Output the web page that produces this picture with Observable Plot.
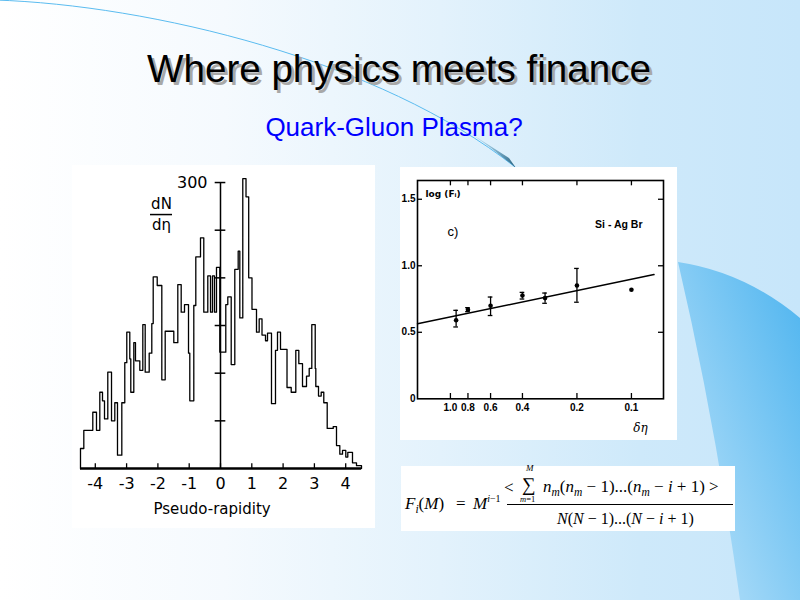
<!DOCTYPE html>
<html><head><meta charset="utf-8">
<script src="https://cdn.jsdelivr.net/npm/d3@7"></script>
<script src="https://cdn.jsdelivr.net/npm/@observablehq/plot@0.6"></script>
<style>
html,body{margin:0;padding:0;}
body{width:800px;height:600px;position:relative;overflow:hidden;
 background:linear-gradient(90deg,#ffffff 0%,#f5fafe 28%,#e3f2fc 55%,#cee9fa 80%,#c7e6fa 100%);
 font-family:"Liberation Sans",Arial,sans-serif;}
#deco{position:absolute;left:0;top:0;}
.title{position:absolute;left:0;width:798px;text-align:center;top:50px;font-size:38.6px;line-height:38px;color:#000;
 text-shadow:3px 3px 0 #a8a8a8;white-space:nowrap;}
.subtitle{position:absolute;left:0;width:788px;text-align:center;top:114px;font-size:26px;line-height:26px;color:#0000ff;white-space:nowrap;}
.box{position:absolute;background:#fff;}
.box svg{display:block;}
#formula{font-family:"Liberation Serif","DejaVu Serif",serif;color:#000;}
#formula span.p{position:absolute;white-space:nowrap;font-size:17px;line-height:17px;}
#formula sub,#formula sup{font-size:11.5px;line-height:0;}
</style></head>
<body>
<svg id="deco" width="800" height="600">
 <defs>
  <linearGradient id="blobg" x1="1" y1="0" x2="0" y2="1">
   <stop offset="0" stop-color="#4db4ef"/>
   <stop offset="1" stop-color="#bfe4fa"/>
  </linearGradient>
  <linearGradient id="tailg" x1="0" y1="0" x2="1" y2="1">
   <stop offset="0" stop-color="#7cc8ee" stop-opacity="0.3"/>
   <stop offset="1" stop-color="#1f5a78"/>
  </linearGradient>
 </defs>
 <path d="M678,262 Q745,272 800,318 L800,600 L740,600 Q715,420 678,262 Z" fill="url(#blobg)"/>
 <path d="M-5,0 C150,5 380,60 515,167" fill="none" stroke="#5bbcf0" stroke-width="1"/>
 <path d="M470,133 Q495,150 516,168 L509,158 Z" fill="url(#tailg)"/>
</svg>
<div class="title">Where physics meets finance</div>
<div class="subtitle">Quark-Gluon Plasma?</div>
<div class="box" id="hist" style="left:72px;top:165px;width:303px;height:363px;"></div>
<div class="box" id="fplot" style="left:400px;top:167px;width:277px;height:273px;"></div>
<div class="box" id="formula" style="left:401px;top:466px;width:334px;height:65px;">
 <span class="p" style="left:4px;top:29px;"><i>F<sub>i</sub></i>(<i>M</i>)</span>
 <span class="p" style="left:55px;top:29px;">=</span>
 <span class="p" style="left:72px;top:29px;"><i>M</i><sup style="font-size:10px;"><i>i</i>−1</sup></span>
 <span class="p" style="left:103px;top:13px;">&lt;</span>
 <span class="p" style="left:121px;top:9px;font-size:19px;line-height:19px;">∑</span>
 <span class="p" style="left:125px;top:-2px;font-size:9px;line-height:9px;"><i>M</i></span>
 <span class="p" style="left:119px;top:29px;font-size:8.5px;line-height:8.5px;"><i>m</i>=1</span>
 <span class="p" style="left:142px;top:12px;"><i>n</i><sub><i>m</i></sub>(<i>n</i><sub><i>m</i></sub> − 1)...(<i>n</i><sub><i>m</i></sub> − <i>i</i> + 1) &gt;</span>
 <div style="position:absolute;left:106px;top:38px;width:226px;height:1px;background:#000;"></div>
 <span class="p" style="left:156px;top:45px;font-size:16px;line-height:16px;"><i>N</i>(<i>N</i> − 1)...(<i>N</i> − <i>i</i> + 1)</span>
</div>
<script>
// ---------- Histogram data (pseudo-rapidity distribution) ----------
const etaEdges = [-4.473,-4.367,-4.080,-3.962,-3.856,-3.770,-3.706,-3.601,-3.482,-3.377,-3.291,-3.153,-3.058,-2.994,-2.898,-2.866,-2.770,-2.716,-2.578,-2.482,-2.406,-2.278,-2.195,-2.150,-2.022,-1.875,-1.767,-1.492,-1.364,-1.256,-1.150,-1.022,-0.981,-0.853,-0.789,-0.639,-0.534,-0.406,-0.319,-0.256,-0.192,-0.128,-0.022,0.169,0.233,0.342,0.457,0.565,0.617,0.712,0.815,0.901,1.006,1.150,1.236,1.326,1.438,1.502,1.629,1.757,1.821,1.917,2.125,2.259,2.406,2.502,2.620,2.748,2.834,2.917,3.026,3.045,3.131,3.217,3.300,3.409,3.601,3.706,3.812,3.898,4.003,4.067,4.217,4.345,4.505];
const dNdEta = [21,40,59,40,80,71,52,101,50,69,14,69,111,143,115,80,132,113,103,151,101,121,152,201,192,93,144,132,193,164,172,121,71,171,222,242,164,202,164,202,164,211,122,172,180,109,209,228,158,304,285,200,167,143,157,140,134,142,68,124,143,125,85,80,124,110,86,97,105,151,105,86,76,80,69,42,44,24,15,19,12,17,6,3];
const etaTicks = [-4,-3,-2,-1,0,1,2,3,4];
const dNTicks = [50,100,150,200,250,300];

// ---------- Factorial moment data ----------
const deltaEta = [0.93,0.8,0.6,0.4,0.3,0.2,0.1];
const logF = [0.59,0.67,0.70,0.777,0.757,0.852,0.82];
const errLow = [0.54,0.655,0.626,0.75,0.718,0.726,null];
const errHigh = [0.665,0.685,0.765,0.80,0.795,0.98,null];
const fitEta = [1.52,0.075];
const fitLogF = [0.564,0.934];
const binTicks = [1.0,0.8,0.6,0.4,0.2,0.1];
const binTickLabels = ["1.0","0.8","0.6","0.4","0.2","0.1"];
const logTicks = [0,0.5,1.0,1.5];
const logTickLabels = ["0","0.5","1.0","1.5"];

// ----- histogram -----
const pts = [{x: etaEdges[0], y: 0}];
dNdEta.forEach((v,i)=>pts.push({x: etaEdges[i], y: v}));
pts.push({x: etaEdges[etaEdges.length-1], y: dNdEta[dNdEta.length-1]});
pts.push({x: etaEdges[etaEdges.length-1], y: 0});
const hfont = "DejaVu Sans, sans-serif";
const hist = Plot.plot({
  width: 303, height: 363,
  marginLeft: 7.15, marginRight: 14.15, marginTop: 7.5, marginBottom: 60,
  x: {domain: [-4.5, 4.5], axis: null},
  y: {domain: [0, 310], axis: null},
  style: {background: "white", fontFamily: hfont},
  marks: [
    Plot.line(pts, {x: "x", y: "y", curve: "step-after", stroke: "black", strokeWidth: 1.3}),
    Plot.ruleY([0], {x1: etaEdges[0], x2: etaEdges[etaEdges.length-1], stroke: "black", strokeWidth: 2.6}),
    Plot.ruleX([0], {y1: 0, y2: 300, stroke: "black", strokeWidth: 1.5}),
    Plot.ruleY(dNTicks, {y: d=>d, x1: -0.17, x2: 0.17, stroke: "black", strokeWidth: 1.5}),
    Plot.ruleX(etaTicks, {x: d=>d, y1: 0, y2: 5, stroke: "black", strokeWidth: 1.3}),
    Plot.text(etaTicks, {x: d=>d, y: 0, dy: 15, text: d=>String(d), fontSize: 16, fill: "black"}),
    Plot.text(["300"], {x: 0, y: 300, dx: -13, textAnchor: "end", fontSize: 16, fill: "black"}),
    Plot.text(["Pseudo-rapidity"], {x: -0.27, y: 0, dy: 41, fontSize: 15, fill: "black"}),
    Plot.text(["dN"], {x: -1.885, y: 277, fontSize: 15, fill: "black"}),
    Plot.text(["dη"], {x: -1.885, y: 255, fontSize: 15, fill: "black"}),
    Plot.ruleY([266.4], {x1: -2.236, x2: -1.534, stroke: "black", strokeWidth: 1.5})
  ]
});
document.getElementById("hist").appendChild(hist);

// ----- factorial moment plot -----
const pdata = deltaEta.map((d,i)=>({x: d, y: logF[i], lo: errLow[i], hi: errHigh[i]}));
const edata = pdata.filter(d=>d.lo != null);
const xDom = [1.52, 0.0665];
const yMax = 1.641;
const pfont = "Liberation Sans, Arial, sans-serif";
const fplot = Plot.plot({
  width: 277, height: 273,
  marginLeft: 17, marginRight: 14, marginTop: 13, marginBottom: 41.7,
  x: {type: "log", domain: xDom, axis: null},
  y: {domain: [0, yMax], axis: null},
  style: {background: "white", fontFamily: pfont},
  marks: [
    Plot.frame({stroke: "black", strokeWidth: 1.6}),
    Plot.ruleX(binTicks, {x: d=>d, y1: 0, y2: 0.04, stroke: "black", strokeWidth: 1.3}),
    Plot.ruleX(binTicks, {x: d=>d, y1: yMax-0.04, y2: yMax, stroke: "black", strokeWidth: 1.3}),
    Plot.ruleY(logTicks.slice(1), {y: d=>d, x1: xDom[0], x2: xDom[0]/1.066, stroke: "black", strokeWidth: 1.3}),
    Plot.ruleY(logTicks.slice(1), {y: d=>d, x1: xDom[1], x2: xDom[1]*1.066, stroke: "black", strokeWidth: 1.3}),
    Plot.text(binTicks, {x: d=>d, y: 0, dy: 9, text: (d,i)=>binTickLabels[i], fontSize: 10, fontWeight: "bold", fill: "black"}),
    Plot.text(logTicks, {frameAnchor: "left", y: d=>d, dx: -2, textAnchor: "end", text: (d,i)=>logTickLabels[i], fontSize: 10, fontWeight: "bold", fill: "black"}),
    Plot.line(fitEta.map((d,i)=>({x: d, y: fitLogF[i]})), {x: "x", y: "y", stroke: "black", strokeWidth: 1.4}),
    Plot.ruleX(edata, {x: "x", y1: "lo", y2: "hi", stroke: "black", strokeWidth: 1.3}),
    Plot.ruleY(edata, {y: "lo", x1: d=>d.x*1.03, x2: d=>d.x/1.03, stroke: "black", strokeWidth: 1.3}),
    Plot.ruleY(edata, {y: "hi", x1: d=>d.x*1.03, x2: d=>d.x/1.03, stroke: "black", strokeWidth: 1.3}),
    Plot.dot(pdata, {x: "x", y: "y", r: 2.3, fill: "black"}),
    Plot.text(["log (Fᵢ)"], {frameAnchor: "top-left", dx: 8, dy: 10, textAnchor: "start", fontSize: 9, fontWeight: "bold", fill: "black", fontFamily: "DejaVu Sans, sans-serif"}),
    Plot.text(["c)"], {frameAnchor: "top-left", dx: 30, dy: 46, textAnchor: "start", fontSize: 13, fill: "black"}),
    Plot.text(["Si - Ag Br"], {frameAnchor: "top-right", dx: -21, dy: 40, textAnchor: "end", fontSize: 10.5, fontWeight: "bold", fill: "black"}),
    Plot.text(["δη"], {frameAnchor: "bottom-right", dx: -23, dy: 33, textAnchor: "middle", fontSize: 12, fontStyle: "italic", fill: "black", fontFamily: "DejaVu Serif, serif"})
  ]
});
document.getElementById("fplot").appendChild(fplot);
</script>
</body></html>
